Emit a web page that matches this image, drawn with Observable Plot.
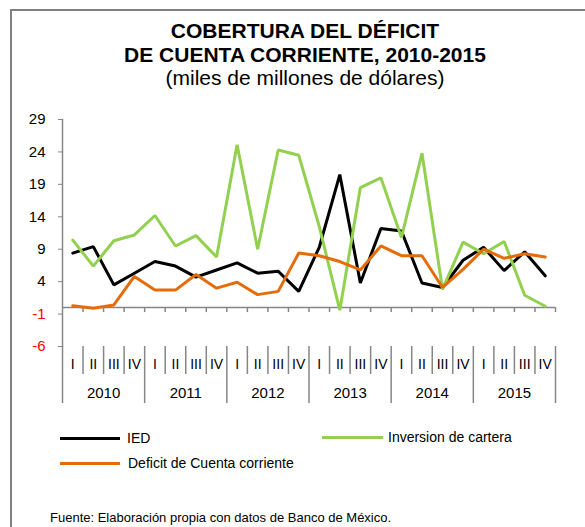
<!DOCTYPE html>
<html><head><meta charset="utf-8">
<script src="https://cdn.jsdelivr.net/npm/d3@7"></script>
<script src="https://cdn.jsdelivr.net/npm/@observablehq/plot@0.6"></script>
<style>
body{margin:0;background:#fff;font-family:"Liberation Sans",Arial,sans-serif;}
#wrap{position:relative;width:585px;height:527px;overflow:hidden;background:#fff;}
.bt{position:absolute;left:10px;top:9px;width:590px;height:2px;background:#808080}
.bl{position:absolute;left:10px;top:9px;width:2px;height:530px;background:#808080}
#title{position:absolute;left:10px;top:19px;width:590px;text-align:center;color:#000;font-size:21px;line-height:23.5px;}
#title b{font-weight:bold}
#chart{position:absolute;left:0;top:96px;}
.lg{position:absolute;height:3px}
.lt{position:absolute;font-size:14px;line-height:16px;color:#000;white-space:nowrap}
#src{position:absolute;left:50px;top:510px;font-size:13px;line-height:16px;color:#000;white-space:nowrap}
</style></head>
<body>
<div id="wrap">
  <div class="bt"></div><div class="bl"></div>
  <div id="title"><b>COBERTURA DEL DÉFICIT</b><br><b>DE CUENTA CORRIENTE, 2010-2015</b><br>(miles de millones de dólares)</div>
  <div id="chart"></div>
  <div class="lg" style="left:60px;top:437px;width:60px;background:#000"></div>
  <div class="lt" style="left:127px;top:430px">IED</div>
  <div class="lg" style="left:322px;top:436px;width:61px;background:#92D050"></div>
  <div class="lt" style="left:388px;top:429px">Inversion de cartera</div>
  <div class="lg" style="left:60px;top:462px;width:60px;background:#E46C0A"></div>
  <div class="lt" style="left:128px;top:455px">Deficit de Cuenta corriente</div>
  <div id="src">Fuente: Elaboración propia con datos de Banco de México.</div>
</div>
<script>
const years = [2010, 2011, 2012, 2013, 2014, 2015];
const quarters = ["I", "II", "III", "IV"];
const ied = [8.4, 9.4, 3.5, 5.3, 7.1, 6.4, 4.7, 5.8, 6.9, 5.3, 5.6, 2.5, 9.3, 20.5, 3.8, 12.2, 11.8, 3.8, 3.1, 7.3, 9.3, 5.7, 8.6, 4.9];
const cartera = [10.4, 6.4, 10.3, 11.2, 14.2, 9.5, 11.1, 7.8, 25.1, 9.0, 24.3, 23.5, 12.5, -0.4, 18.5, 20.0, 10.8, 23.8, 2.8, 10.1, 8.3, 10.2, 1.9, 0.2];
const deficit = [0.3, -0.1, 0.4, 4.8, 2.7, 2.7, 5.1, 3.0, 3.9, 2.0, 2.5, 8.4, 8.0, 7.1, 5.8, 9.5, 8.0, 8.0, 3.1, 5.9, 9.0, 7.6, 8.3, 7.8];
const yTicks = [-6, -1, 4, 9, 14, 19, 24, 29];
const seriesNames = ["IED", "Inversion de cartera", "Deficit de Cuenta corriente"];
const seriesColors = ["#000000", "#92D050", "#E46C0A"];

const n = ied.length;
const periods = d3.range(n).map(i => ({i, x: i + 0.5, q: quarters[i % 4], year: years[Math.floor(i / 4)]}));
const rows = [];
[ied, cartera, deficit].forEach((arr, s) => arr.forEach((v, i) => rows.push({series: seriesNames[s], x: i + 0.5, v})));
const bounds = d3.range(n + 1);
const qBounds = bounds.filter(b => b % 4 !== 0);
const yBounds = bounds.filter(b => b % 4 === 0);
const yearCenters = years.map((y, k) => ({year: String(y), x: k * 4 + 2}));
const yMin = d3.min(yTicks), yMax = d3.max(yTicks);
const fmt = d => String(d);

const chart = Plot.plot({
  width: 585,
  height: 314,
  marginTop: 23,
  marginBottom: 64,
  marginLeft: 62,
  marginRight: 30,
  style: {fontFamily: "'Liberation Sans', Arial, sans-serif", fontSize: "15px", background: "transparent", color: "#000"},
  x: {domain: [0, n], axis: null},
  y: {domain: [yMin, yMax], axis: null},
  color: {domain: seriesNames, range: seriesColors},
  marks: [
    Plot.frame({anchor: "left", stroke: "#868686", strokeWidth: 1.5}),
    Plot.axisY({ticks: yTicks.filter(t => t >= 0), tickFormat: fmt, tickSize: 4, tickPadding: 13, stroke: "#868686", color: "#000", label: null, fontSize: 15}),
    Plot.axisY({ticks: yTicks.filter(t => t < 0), tickFormat: fmt, tickSize: 4, tickPadding: 13, stroke: "#868686", color: "#ff0000", label: null, fontSize: 15}),
    Plot.ruleY([0], {stroke: "#868686", strokeWidth: 1.5}),
    Plot.ruleX(bounds.slice(1), {x: d => d, y1: 0, y2: 0, insetBottom: -5, stroke: "#868686", strokeWidth: 1.5}),
    Plot.ruleX(qBounds, {x: d => d, y1: yMin, y2: yMin, insetBottom: -28, stroke: "#868686", strokeWidth: 1.5}),
    Plot.ruleX(yBounds, {x: d => d, y1: yMin, y2: yMin, insetBottom: -57, stroke: "#868686", strokeWidth: 1.5}),
    Plot.text(periods, {x: "x", y: yMin, text: "q", dy: 18, fontSize: 14, fill: "#000"}),
    Plot.text(yearCenters, {x: "x", y: yMin, text: "year", dy: 47, fontSize: 15, fill: "#000"}),
    Plot.line(rows, {x: "x", y: "v", z: "series", stroke: "series", strokeWidth: 3, strokeLinejoin: "miter"})
  ]
});
document.getElementById("chart").appendChild(chart);
</script>
</body></html>
